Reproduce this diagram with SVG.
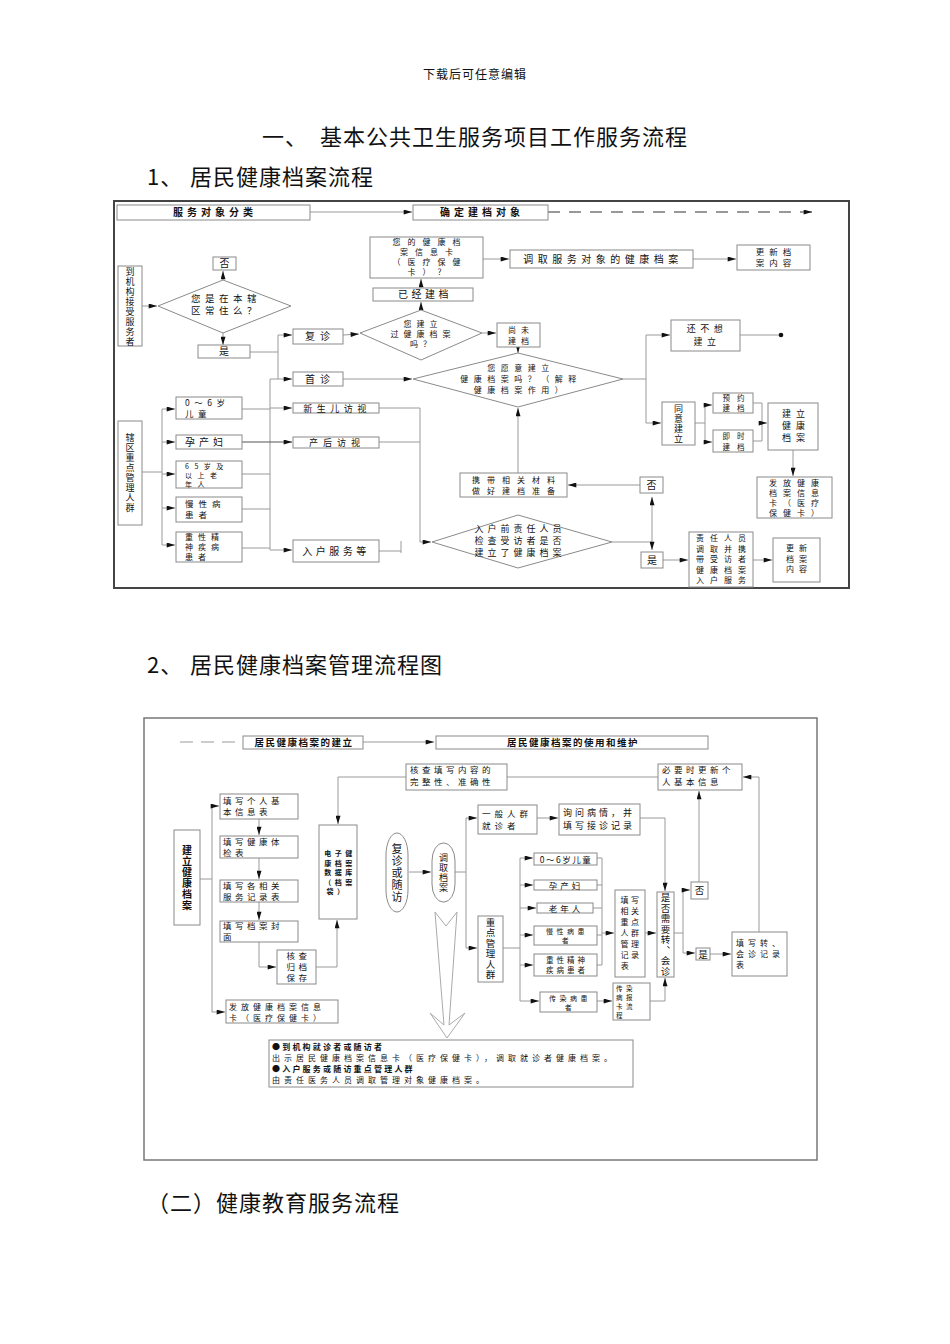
<svg xmlns="http://www.w3.org/2000/svg" width="950" height="1344" viewBox="0 0 950 1344">
<style>
text{font-family:"Noto Sans CJK SC","Noto Sans",sans-serif;fill:#111}
.h{font-size:22px;letter-spacing:1px}
.hd{font-size:12px;letter-spacing:1px}
.b{fill:#fff;stroke:#8a8a8a;stroke-width:1}
.c{fill:none;stroke:#9a9a9a;stroke-width:1}
.t{font-size:10px;letter-spacing:3.5px;text-anchor:middle}
.ts{font-size:10px;letter-spacing:3px}
.v{font-size:9px;text-anchor:middle}
.vt{writing-mode:vertical-rl;text-anchor:middle;font-size:9px;letter-spacing:1px}
.bd{font-weight:bold}
.u{font-size:8.5px;letter-spacing:3.5px}
.um{font-size:9.5px;letter-spacing:1.5px;text-anchor:middle}
.uv{font-size:9.5px;text-anchor:middle}
</style>
<defs>
<marker id="a" viewBox="0 0 10 6" refX="10" refY="3" markerWidth="9" markerHeight="5" orient="auto-start-reverse" markerUnits="userSpaceOnUse"><path d="M0,0 L10,3 L0,6 z" fill="#111"/></marker>
</defs>
<rect width="950" height="1344" fill="#fff"/>

<text class="hd" x="475" y="79" text-anchor="middle">下载后可任意编辑</text>
<text class="h" x="262" y="145">一、</text>
<text class="h" x="320" y="145">基本公共卫生服务项目工作服务流程</text>
<text class="h" x="147" y="185">1、</text>
<text class="h" x="190" y="185">居民健康档案流程</text>
<text class="h" x="147" y="673">2、</text>
<text class="h" x="190" y="673">居民健康档案管理流程图</text>
<text class="h" x="147" y="1211">（二）健康教育服务流程</text>

<!-- ===== Diagram 1 ===== -->
<rect x="114" y="201" width="735" height="387" fill="none" stroke="#444" stroke-width="2"/>

<g id="connectors1">
<line class="c" x1="310" y1="212" x2="412" y2="212" marker-end="url(#a)"/>
<line class="c" x1="548" y1="212" x2="812" y2="212" style="stroke:#333" stroke-dasharray="12,9" marker-end="url(#a)"/>
<line class="c" x1="142" y1="306" x2="157" y2="306" marker-end="url(#a)"/>
<line class="c" x1="223" y1="280" x2="223" y2="271" marker-end="url(#a)"/>
<line class="c" x1="223" y1="333" x2="223" y2="345" marker-end="url(#a)"/>
<polyline class="c" points="250,352 278,352"/>
<line class="c" x1="278" y1="335" x2="278" y2="379"/>
<line class="c" x1="278" y1="335" x2="292" y2="335" marker-end="url(#a)"/>
<line class="c" x1="270" y1="379" x2="292" y2="379" marker-end="url(#a)"/>
<line class="c" x1="270" y1="379" x2="270" y2="550"/>
<line class="c" x1="343" y1="335" x2="359" y2="334" marker-end="url(#a)"/>
<line class="c" x1="421" y1="310" x2="421" y2="302" marker-end="url(#a)"/>
<line class="c" x1="421" y1="288" x2="421" y2="279" marker-end="url(#a)"/>
<line class="c" x1="483" y1="259" x2="509" y2="259" marker-end="url(#a)"/>
<line class="c" x1="693" y1="259" x2="736" y2="259" marker-end="url(#a)"/>
<line class="c" x1="482" y1="333" x2="496" y2="333" marker-end="url(#a)"/>
<line class="c" x1="518" y1="347" x2="518" y2="353" marker-end="url(#a)"/>
<line class="c" x1="343" y1="379" x2="412" y2="379" marker-end="url(#a)"/>
<polyline class="c" points="623,379 646,379"/>
<line class="c" x1="646" y1="335" x2="646" y2="423"/>
<line class="c" x1="646" y1="335" x2="670" y2="335" marker-end="url(#a)"/>
<line class="c" x1="646" y1="423" x2="661" y2="423" marker-end="url(#a)"/>
<line class="c" x1="740" y1="335" x2="780" y2="335"/>
<circle cx="781" cy="335" r="2.3" fill="#111"/>
<line class="c" x1="695" y1="423" x2="705" y2="423"/>
<line class="c" x1="705" y1="405" x2="705" y2="442"/>
<line class="c" x1="705" y1="405" x2="712" y2="405" marker-end="url(#a)"/>
<line class="c" x1="705" y1="442" x2="712" y2="442" marker-end="url(#a)"/>
<line class="c" x1="753" y1="403" x2="762" y2="403"/>
<line class="c" x1="753" y1="441" x2="762" y2="441"/>
<line class="c" x1="762" y1="403" x2="762" y2="441"/>
<line class="c" x1="762" y1="423" x2="767" y2="423" marker-end="url(#a)"/>
<line class="c" x1="793" y1="450" x2="793" y2="476" marker-end="url(#a)"/>
<line class="c" x1="142" y1="472" x2="162" y2="472"/>
<line class="c" x1="162" y1="409" x2="162" y2="545"/>
<line class="c" x1="162" y1="409" x2="175" y2="409" marker-end="url(#a)"/>
<line class="c" x1="162" y1="442" x2="175" y2="442" marker-end="url(#a)"/>
<line class="c" x1="162" y1="474" x2="175" y2="474" marker-end="url(#a)"/>
<line class="c" x1="162" y1="508" x2="175" y2="508" marker-end="url(#a)"/>
<line class="c" x1="162" y1="545" x2="175" y2="545" marker-end="url(#a)"/>
<line class="c" x1="242" y1="409" x2="270" y2="409"/>
<line class="c" x1="270" y1="408" x2="292" y2="408" marker-end="url(#a)"/>
<line class="c" x1="242" y1="442" x2="292" y2="442" style="stroke:#555" marker-end="url(#a)"/>
<line class="c" x1="242" y1="474" x2="270" y2="474"/>
<line class="c" x1="242" y1="509" x2="270" y2="509"/>
<line class="c" x1="242" y1="548" x2="270" y2="548"/>
<line class="c" x1="270" y1="550" x2="292" y2="550" marker-end="url(#a)"/>
<line class="c" x1="379" y1="408" x2="420" y2="408"/>
<line class="c" x1="379" y1="442" x2="420" y2="442"/>
<line class="c" x1="420" y1="408" x2="420" y2="542"/>
<line class="c" x1="420" y1="542" x2="431" y2="542" marker-end="url(#a)"/>
<line class="c" x1="379" y1="551" x2="401" y2="551"/>
<line class="c" x1="401" y1="541" x2="401" y2="553"/>
<line class="c" x1="612" y1="542" x2="652" y2="542"/>
<line class="c" x1="652" y1="497" x2="652" y2="550" marker-start="url(#a)" marker-end="url(#a)"/>
<line class="c" x1="640" y1="485" x2="568" y2="485" marker-end="url(#a)"/>
<line class="c" x1="518" y1="473" x2="518" y2="408" marker-end="url(#a)"/>
<line class="c" x1="663" y1="560" x2="688" y2="560" marker-end="url(#a)"/>
<line class="c" x1="753" y1="560" x2="772" y2="560" marker-end="url(#a)"/>
</g>

<g id="n1"><rect class="b" x="117" y="205" width="193" height="15"/><text class="t bd" x="215" y="216" style="letter-spacing:4px">服务对象分类</text></g>
<g id="n2"><rect class="b" x="413" y="205" width="135" height="15"/><text class="t bd" x="482" y="216" style="letter-spacing:4px">确定建档对象</text></g>
<g id="n3"><rect class="b" x="118" y="266" width="24" height="80"/><text class="vt" x="130" y="307">到机构接受服务者</text></g>
<g id="n4"><polygon class="b" points="158,306 223,280 291,306 223,333"/><text class="t" style="font-size:9.5px;letter-spacing:4.5px"><tspan x="226" y="302">您是在本辖</tspan><tspan x="226" y="314">区常住么？</tspan></text></g>
<g id="n5"><rect class="b" x="213" y="257" width="23" height="13"/><text class="v" x="224.5" y="267" style="font-size:10px">否</text></g>
<g id="n6"><rect class="b" x="198" y="345" width="52" height="13"/><text class="v" x="224" y="355" style="font-size:10px">是</text></g>
<g id="n7"><rect class="b" x="293" y="329" width="50" height="15"/><text class="t" x="320" y="340" style="letter-spacing:5px">复诊</text></g>
<g id="n8"><rect class="b" x="293" y="372" width="50" height="14"/><text class="t" x="320" y="383" style="letter-spacing:5px">首诊</text></g>
<g id="n9"><polygon class="b" points="360,333 421,310 482,333 421,360"/><text class="t" style="font-size:8px;letter-spacing:5px"><tspan x="423" y="327">您建立</tspan><tspan x="423" y="337">过健康档案</tspan><tspan x="423" y="347">吗？</tspan></text></g>
<g id="n10"><rect class="b" x="373" y="288" width="100" height="13"/><text class="t" x="425" y="298">已经建档</text></g>
<g id="n11"><rect class="b" x="370" y="237" width="113" height="41"/><text class="t" style="font-size:8px;letter-spacing:7px"><tspan x="430" y="245">您的健康档</tspan><tspan x="430" y="255">案信息卡</tspan><tspan x="430" y="265">（医疗保健</tspan><tspan x="430" y="275">卡）？</tspan></text></g>
<g id="n12"><rect class="b" x="510" y="250" width="183" height="18"/><text class="t" x="603" y="263" style="letter-spacing:4.5px">调取服务对象的健康档案</text></g>
<g id="n13"><rect class="b" x="737" y="245" width="73" height="25"/><text class="t" style="font-size:8.5px;letter-spacing:5px"><tspan x="776" y="255">更新档</tspan><tspan x="776" y="266">案内容</tspan></text></g>
<g id="n14"><rect class="b" x="497" y="323" width="43" height="24"/><text class="t" style="font-size:8px;letter-spacing:5px"><tspan x="521" y="333">尚未</tspan><tspan x="521" y="344">建档</tspan></text></g>
<g id="n15"><polygon class="b" points="413,379 518,353 623,379 518,407"/><text class="t" style="font-size:8px;letter-spacing:5.5px"><tspan x="521" y="371">您愿意建立</tspan><tspan x="521" y="382">健康档案吗？（解释</tspan><tspan x="521" y="393">健康档案作用）</tspan></text></g>
<g id="n16"><rect class="b" x="671" y="320" width="69" height="31"/><text class="t" style="font-size:9px;letter-spacing:4.5px"><tspan x="707" y="332">还不想</tspan><tspan x="707" y="345">建立</tspan></text></g>
<g id="n17"><rect class="b" x="662" y="402" width="33" height="43"/><text class="vt" x="678.5" y="424">同意建立</text></g>
<g id="n18"><rect class="b" x="713" y="393" width="40" height="20"/><text class="t" style="font-size:7.5px;letter-spacing:7px"><tspan x="737" y="401">预约</tspan><tspan x="737" y="411">建档</tspan></text></g>
<g id="n19"><rect class="b" x="713" y="430" width="40" height="22"/><text class="t" style="font-size:7.5px;letter-spacing:7px"><tspan x="737" y="439">即时</tspan><tspan x="737" y="450">建档</tspan></text></g>
<g id="n20"><rect class="b" x="768" y="403" width="50" height="47"/><text class="t" style="font-size:9px;letter-spacing:5px"><tspan x="796" y="417">建立</tspan><tspan x="796" y="429">健康</tspan><tspan x="796" y="441">档案</tspan></text></g>
<g id="n21"><rect class="b" x="757" y="477" width="75" height="41"/><text class="t" style="font-size:8px;letter-spacing:6px"><tspan x="797" y="486">发放健康</tspan><tspan x="797" y="496">档案信息</tspan><tspan x="797" y="506">卡（医疗</tspan><tspan x="797" y="516">保健卡）</tspan></text></g>
<g id="n22"><rect class="b" x="118" y="421" width="24" height="104"/><text class="vt" x="130" y="473">辖区重点管理人群</text></g>
<g id="n23"><rect class="b" x="176" y="397" width="66" height="22"/><text class="ts" style="font-size:8.5px;letter-spacing:4.5px"><tspan x="185" y="406">0～6岁</tspan><tspan x="185" y="417">儿童</tspan></text></g>
<g id="n24"><rect class="b" x="176" y="435" width="66" height="14"/><text class="ts" x="185" y="446" style="letter-spacing:4px">孕产妇</text></g>
<g id="n25"><rect class="b" x="176" y="461" width="66" height="27"/><text class="ts" style="font-size:7px;letter-spacing:5.5px"><tspan x="185" y="469">65岁及</tspan><tspan x="185" y="478">以上老</tspan><tspan x="185" y="487">年人</tspan></text></g>
<g id="n26"><rect class="b" x="176" y="497" width="66" height="25"/><text class="ts" style="font-size:8.5px;letter-spacing:5px"><tspan x="185" y="507">慢性病</tspan><tspan x="185" y="518">患者</tspan></text></g>
<g id="n27"><rect class="b" x="176" y="532" width="66" height="30"/><text class="ts" style="font-size:8px;letter-spacing:5px"><tspan x="185" y="540">重性精</tspan><tspan x="185" y="550">神疾病</tspan><tspan x="185" y="560">患者</tspan></text></g>
<g id="n28"><rect class="b" x="293" y="403" width="86" height="10"/><text class="t" x="337" y="411.5" style="font-size:9px;letter-spacing:4.5px">新生儿访视</text></g>
<g id="n29"><rect class="b" x="293" y="437" width="86" height="11"/><text class="t" x="337" y="446" style="font-size:9px;letter-spacing:5px">产后访视</text></g>
<g id="n30"><rect class="b" x="293" y="540" width="86" height="22"/><text class="t" x="336" y="555">入户服务等</text></g>
<g id="n31"><polygon class="b" points="432,542 518,515 612,542 518,568"/><text class="t" style="font-size:9px;letter-spacing:4px"><tspan x="520" y="532">入户前责任人员</tspan><tspan x="520" y="544">检查受访者是否</tspan><tspan x="520" y="556">建立了健康档案</tspan></text></g>
<g id="n32"><rect class="b" x="640" y="477" width="23" height="16"/><text class="v" x="651.5" y="489" style="font-size:10px">否</text></g>
<g id="n33"><rect class="b" x="641" y="552" width="22" height="16"/><text class="v" x="652" y="564" style="font-size:10px">是</text></g>
<g id="n34"><rect class="b" x="460" y="473" width="107" height="24"/><text class="t" style="font-size:8px;letter-spacing:7px"><tspan x="517" y="483">携带相关材料</tspan><tspan x="517" y="494">做好建档准备</tspan></text></g>
<g id="n35"><rect class="b" x="689" y="532" width="64" height="55"/><text class="t" style="font-size:8px;letter-spacing:6px"><tspan x="724" y="541">责任人员</tspan><tspan x="724" y="551.5">调取并携</tspan><tspan x="724" y="562">带受访者</tspan><tspan x="724" y="572.5">健康档案</tspan><tspan x="724" y="583">入户服务</tspan></text></g>
<g id="n36"><rect class="b" x="773" y="538" width="47" height="44"/><text class="t" style="font-size:8px;letter-spacing:5px"><tspan x="799" y="551">更新</tspan><tspan x="799" y="561.5">档案</tspan><tspan x="799" y="572">内容</tspan></text></g>

<!-- ===== Diagram 2 ===== -->
<rect x="144" y="718" width="673" height="442" fill="none" stroke="#777" stroke-width="1.5"/>

<g id="connectors2">
<line class="c" x1="180" y1="742" x2="242" y2="742" stroke-dasharray="13,8"/>
<line class="c" x1="363" y1="742" x2="434" y2="742" marker-end="url(#a)"/>
<line class="c" x1="507" y1="777" x2="658" y2="777"/>
<polyline class="c" points="406,777 338,777 338,824" marker-end="url(#a)"/>
<polyline class="c" points="759,932 759,777 743,777" marker-end="url(#a)"/>
<line class="c" x1="699" y1="882" x2="699" y2="791" marker-end="url(#a)"/>
<line class="c" x1="200" y1="879" x2="212" y2="879"/>
<line class="c" x1="212" y1="806" x2="212" y2="1012"/>
<line class="c" x1="212" y1="806" x2="219" y2="806" marker-end="url(#a)"/>
<line class="c" x1="212" y1="1012" x2="225" y2="1012" marker-end="url(#a)"/>
<line class="c" x1="259" y1="819" x2="259" y2="835" marker-end="url(#a)"/>
<line class="c" x1="259" y1="858" x2="259" y2="879" marker-end="url(#a)"/>
<line class="c" x1="259" y1="902" x2="259" y2="920" marker-end="url(#a)"/>
<polyline class="c" points="259,942 259,967 276,967" marker-end="url(#a)"/>
<polyline class="c" points="316,967 337,967 337,920" marker-end="url(#a)"/>
<line class="c" x1="409" y1="872" x2="431" y2="872" marker-end="url(#a)"/>
<line class="c" x1="455" y1="872" x2="466" y2="872"/>
<line class="c" x1="466" y1="818" x2="466" y2="948"/>
<line class="c" x1="466" y1="818" x2="477" y2="818" marker-end="url(#a)"/>
<line class="c" x1="466" y1="948" x2="477" y2="948" marker-end="url(#a)"/>
<line class="c" x1="537" y1="818" x2="558" y2="818" marker-end="url(#a)"/>
<polyline class="c" points="640,818 665,818 665,891" marker-end="url(#a)"/>
<line class="c" x1="503" y1="948" x2="520" y2="948"/>
<line class="c" x1="520" y1="858" x2="520" y2="1001"/>
<line class="c" x1="520" y1="858" x2="533" y2="858" marker-end="url(#a)"/>
<line class="c" x1="520" y1="885" x2="533" y2="885" marker-end="url(#a)"/>
<line class="c" x1="520" y1="908" x2="536" y2="908" marker-end="url(#a)"/>
<line class="c" x1="520" y1="935" x2="533" y2="935" marker-end="url(#a)"/>
<line class="c" x1="520" y1="965" x2="533" y2="965" marker-end="url(#a)"/>
<line class="c" x1="520" y1="1001" x2="539" y2="1001" marker-end="url(#a)"/>
<line class="c" x1="597" y1="858" x2="602" y2="858"/>
<line class="c" x1="597" y1="885" x2="602" y2="885"/>
<line class="c" x1="593" y1="908" x2="602" y2="908"/>
<line class="c" x1="597" y1="935" x2="602" y2="935"/>
<line class="c" x1="597" y1="965" x2="602" y2="965"/>
<line class="c" x1="602" y1="858" x2="602" y2="965"/>
<line class="c" x1="602" y1="933" x2="614" y2="933" marker-end="url(#a)"/>
<line class="c" x1="645" y1="933" x2="656" y2="933" marker-end="url(#a)"/>
<line class="c" x1="597" y1="1001" x2="612" y2="1001" marker-end="url(#a)"/>
<polyline class="c" points="650,1001 665,1001 665,978" marker-end="url(#a)"/>
<line class="c" x1="674" y1="933" x2="683" y2="933"/>
<line class="c" x1="683" y1="890" x2="683" y2="953"/>
<line class="c" x1="683" y1="890" x2="690" y2="890" marker-end="url(#a)"/>
<line class="c" x1="683" y1="953" x2="695" y2="953" marker-end="url(#a)"/>
<line class="c" x1="710" y1="954" x2="731" y2="954" marker-end="url(#a)"/>
<polygon points="435,912 446,926 457,912 449,1025 465,1013 447,1038 430,1013 444,1025" fill="#fff" stroke="#aaa" stroke-width="1"/>
</g>

<g id="m1"><rect class="b" x="243" y="736" width="120" height="13"/><text class="um bd" x="304" y="746">居民健康档案的建立</text></g>
<g id="m2"><rect class="b" x="436" y="736" width="272" height="13"/><text class="um bd" x="573" y="746">居民健康档案的使用和维护</text></g>
<g id="m3"><rect class="b" x="406" y="764" width="101" height="26"/><text class="u"><tspan x="410" y="773">核查填写内容的</tspan><tspan x="410" y="785">完整性、准确性</tspan></text></g>
<g id="m4"><rect class="b" x="658" y="764" width="84" height="26"/><text class="u"><tspan x="662" y="773">必要时更新个</tspan><tspan x="662" y="785">人基本信息</tspan></text></g>
<g id="m5"><rect class="b" x="174" y="830" width="26" height="95"/><text class="vt bd" x="187" y="878" style="font-size:10px">建立健康档案</text></g>
<g id="m6"><rect class="b" x="220" y="794" width="78" height="25"/><text class="u"><tspan x="223" y="804">填写个人基</tspan><tspan x="223" y="815">本信息表</tspan></text></g>
<g id="m7"><rect class="b" x="220" y="836" width="78" height="22"/><text class="u"><tspan x="223" y="845">填写健康体</tspan><tspan x="223" y="856">检表</tspan></text></g>
<g id="m8"><rect class="b" x="220" y="880" width="78" height="22"/><text class="u"><tspan x="223" y="889">填写各相关</tspan><tspan x="223" y="900">服务记录表</tspan></text></g>
<g id="m9"><rect class="b" x="220" y="921" width="78" height="21"/><text class="u"><tspan x="223" y="929">填写档案封</tspan><tspan x="223" y="940">面</tspan></text></g>
<g id="m10"><rect class="b" x="277" y="950" width="39" height="34"/><text class="um" style="font-size:8.5px;letter-spacing:3.5px"><tspan x="298.5" y="959">核查</tspan><tspan x="298.5" y="970">归档</tspan><tspan x="298.5" y="981">保存</tspan></text></g>
<g id="m11"><rect class="b" x="319" y="825" width="38" height="94"/><text class="uv bd" style="font-size:7px;letter-spacing:3.5px"><tspan x="340" y="856">电子健</tspan><tspan x="340" y="865.5">康档案</tspan><tspan x="340" y="875">数据库</tspan><tspan x="340" y="884.5">（档案</tspan><tspan x="337" y="894">袋）</tspan></text></g>
<g id="m12"><rect class="b" x="226" y="1000" width="112" height="23"/><text class="u" style="font-size:8px;letter-spacing:4px"><tspan x="229" y="1010">发放健康档案信息</tspan><tspan x="229" y="1021">卡（医疗保健卡）</tspan></text></g>
<g id="m13"><rect class="b" x="386" y="833" width="22" height="79" rx="11" ry="22"/><text class="vt" x="397" y="873" style="font-size:11px;letter-spacing:1px">复诊或随访</text></g>
<g id="m14"><rect class="b" x="432" y="843" width="23" height="59" rx="11" ry="18"/><text class="vt" x="443.5" y="873">调取档案</text></g>
<g id="m15"><rect class="b" x="478" y="805" width="59" height="29"/><text class="u" style="font-size:8.5px;letter-spacing:4px"><tspan x="482" y="817">一般人群</tspan><tspan x="482" y="829">就诊者</tspan></text></g>
<g id="m16"><rect class="b" x="559" y="804" width="81" height="31"/><text class="u" style="font-size:9px;letter-spacing:3px"><tspan x="563" y="816">询问病情，并</tspan><tspan x="563" y="829">填写接诊记录</tspan></text></g>
<g id="m17"><rect class="b" x="478" y="916" width="25" height="66"/><text class="vt" x="490.5" y="949" style="font-size:9.5px;letter-spacing:1px">重点管理人群</text></g>
<g id="m18"><rect class="b" x="534" y="853" width="63" height="12"/><text class="um" x="566" y="862.5" style="font-size:8.5px">0～6岁儿童</text></g>
<g id="m19"><rect class="b" x="534" y="880" width="63" height="10"/><text class="um" x="566" y="888.5" style="font-size:8.5px;letter-spacing:3px">孕产妇</text></g>
<g id="m20"><rect class="b" x="537" y="903" width="56" height="10"/><text class="um" x="566" y="911.5" style="font-size:8.5px;letter-spacing:3px">老年人</text></g>
<g id="m21"><rect class="b" x="534" y="926" width="63" height="19"/><text class="um" style="font-size:7px;letter-spacing:3.5px"><tspan x="567" y="934">慢性病患</tspan><tspan x="567" y="943">者</tspan></text></g>
<g id="m22"><rect class="b" x="534" y="954" width="63" height="22"/><text class="um" style="font-size:7.5px;letter-spacing:3px"><tspan x="567" y="963">重性精神</tspan><tspan x="567" y="973">疾病患者</tspan></text></g>
<g id="m23"><rect class="b" x="540" y="992" width="57" height="20"/><text class="um" style="font-size:7px;letter-spacing:3.5px"><tspan x="570" y="1001">传染病患</tspan><tspan x="570" y="1010">者</tspan></text></g>
<g id="m24"><rect class="b" x="615" y="890" width="30" height="87"/><text class="um" style="font-size:8px;letter-spacing:2.5px"><tspan x="631" y="903">填写</tspan><tspan x="631" y="914">相关</tspan><tspan x="631" y="925">重点</tspan><tspan x="631" y="936">人群</tspan><tspan x="631" y="947">管理</tspan><tspan x="631" y="958">记录</tspan><tspan x="626" y="969">表</tspan></text></g>
<g id="m25"><rect class="b" x="657" y="892" width="17" height="85"/><text class="vt" x="665.5" y="935" style="font-size:9.5px;letter-spacing:1px">是否需要转、会诊</text></g>
<g id="m26"><rect class="b" x="613" y="983" width="37" height="37"/><text class="u" style="font-size:6.5px;letter-spacing:3.5px"><tspan x="616" y="991">传染</tspan><tspan x="616" y="1000">病报</tspan><tspan x="616" y="1009">卡流</tspan><tspan x="616" y="1018">程</tspan></text></g>
<g id="m27"><rect class="b" x="691" y="882" width="17" height="17"/><text class="uv" x="699.5" y="894">否</text></g>
<g id="m28"><rect class="b" x="696" y="948" width="14" height="12"/><text class="uv" x="703" y="958">是</text></g>
<g id="m29"><rect class="b" x="732" y="932" width="55" height="44"/><text class="u" style="font-size:8px;letter-spacing:4px"><tspan x="736" y="946">填写转、</tspan><tspan x="736" y="957">会诊记录</tspan><tspan x="736" y="968">表</tspan></text></g>
<g id="m30"><rect class="b" x="269" y="1040" width="364" height="47"/><text class="u" style="font-size:8px;letter-spacing:4px"><tspan x="272" y="1050" font-weight="bold" style="letter-spacing:2.2px">●到机构就诊者或随访者</tspan><tspan x="272" y="1061">出示居民健康档案信息卡（医疗保健卡），调取就诊者健康档案。</tspan><tspan x="272" y="1072" font-weight="bold" style="letter-spacing:2.2px">●入户服务或随访重点管理人群</tspan><tspan x="272" y="1083">由责任医务人员调取管理对象健康档案。</tspan></text></g>
</svg>
